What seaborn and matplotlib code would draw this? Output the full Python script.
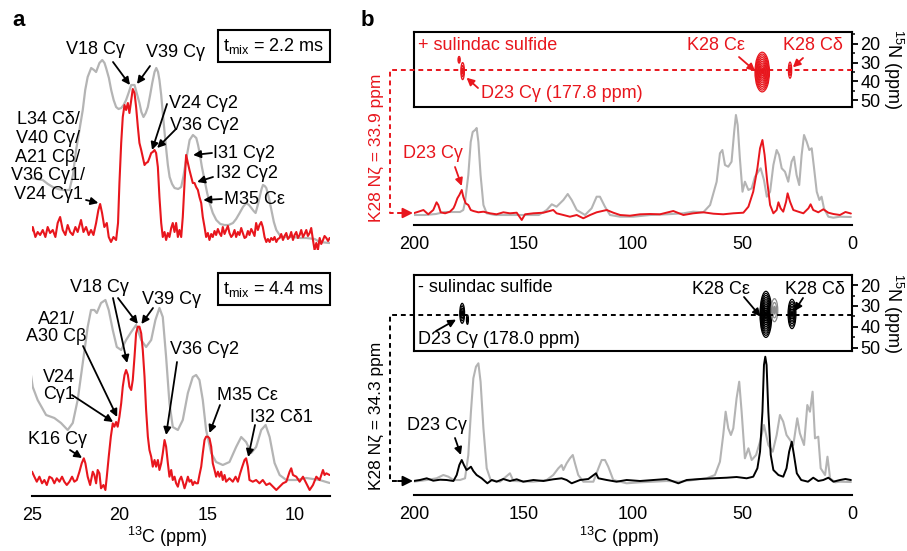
import matplotlib.pyplot as plt
import pandas as pd
import seaborn as sns
from matplotlib.lines import Line2D
from matplotlib.patches import Ellipse, FancyArrowPatch
from matplotlib.ticker import MultipleLocator

W, H = 907, 551
RED = "#e8161d"
GREY = "#b4b4b4"

# ---- panel a, t_mix = 2.2 ms (13C ppm, intensity) ----
a_top_red_ppm = [25.13, 24.94, 24.79, 24.66, 24.52, 24.37, 24.22, 24.09, 23.95, 23.80, 23.65, 23.52, 23.38,
                 23.23, 23.08, 22.95, 22.81, 22.66, 22.51, 22.38, 22.19, 22.05, 21.90, 21.75, 21.62, 21.48,
                 21.33, 21.20, 21.10, 20.99, 20.86, 20.72, 20.61, 20.48, 20.34, 20.19, 20.08, 20.00, 19.90,
                 19.81, 19.71, 19.62, 19.52, 19.43, 19.33, 19.24, 19.14, 19.05, 18.95, 18.86, 18.76, 18.67,
                 18.57, 18.48, 18.38, 18.29, 18.19, 18.10, 18.00, 17.91, 17.81, 17.72, 17.62, 17.53, 17.43,
                 17.34, 17.24, 17.15, 17.05, 16.96, 16.86, 16.77, 16.67, 16.58, 16.48, 16.39, 16.29, 16.20,
                 16.10, 16.01, 15.91, 15.82, 15.72, 15.63, 15.53, 15.44, 15.34, 15.25, 15.15, 15.06, 14.96,
                 14.87, 14.77, 14.68, 14.58, 14.49, 14.39, 14.30, 14.20, 14.11, 14.01, 13.92, 13.82, 13.73,
                 13.63, 13.54, 13.44, 13.35, 13.25, 13.16, 13.06, 12.97, 12.87, 12.78, 12.68, 12.59, 12.49,
                 12.40, 12.30, 12.21, 12.11, 12.02, 11.92, 11.83, 11.73, 11.63, 11.54, 11.44, 11.35, 11.25,
                 11.16, 11.06, 10.97, 10.87, 10.78, 10.68, 10.59, 10.49, 10.40, 10.30, 10.21, 10.11, 10.02,
                 9.92, 9.83, 9.73, 9.64, 9.54, 9.45, 9.35, 9.26, 9.16, 9.07, 8.97, 8.88, 8.78, 8.69, 8.59,
                 8.50, 8.40, 8.31, 8.21, 8.11, 8.02]
a_top_red_int = [13, 23, 13, 18, 15, 20, 13, 23, 17, 20, 13, 27, 33,
                 20, 15, 25, 18, 15, 23, 18, 30, 18, 23, 15, 20, 15,
                 27, 40, 46, 37, 23, 27, 13, 8, 13, 10, 27, 67, 107,
                 133, 145, 140, 147, 137, 150, 161, 157, 143, 123, 107, 100, 93,
                 85, 87, 88, 92, 97, 98, 100, 97, 83, 53, 27, 13, 18,
                 10, 17, 13, 22, 27, 18, 27, 13, 20, 13, 33, 67, 95,
                 87, 80, 73, 67, 67, 63, 60, 53, 47, 33, 23, 13, 17,
                 10, 16, 13, 19, 15, 21, 17, 14, 23, 16, 20, 24, 17,
                 13, 15, 20, 13, 18, 15, 22, 17, 12, 13, 19, 15, 21,
                 18, 14, 27, 20, 25, 28, 23, 13, 8, 11, 8, 12, 10,
                 13, 8, 11, 12, 16, 10, 14, 17, 11, 13, 18, 10, 15,
                 18, 12, 15, 20, 13, 16, 20, 14, 17, 22, 10, 0, 7, 0, 12,
                 6, 10, 14, 12, 9, 12]
a_top_grey_ppm = [25.04, 24.70, 24.37, 24.08, 23.80, 23.50, 23.23, 22.85, 22.65, 22.47, 22.28, 22.09, 21.95,
                  21.81, 21.61, 21.45, 21.33, 21.14, 20.98, 20.85, 20.76, 20.60, 20.47, 20.33, 20.19, 20.05,
                  19.90, 19.76, 19.62, 19.48, 19.33, 19.14, 19.00, 18.86, 18.75, 18.63, 18.50, 18.38, 18.25,
                  18.13, 18.00, 17.90, 17.80, 17.72, 17.62, 17.53, 17.43, 17.33, 17.24, 17.14, 17.00, 16.86,
                  16.65, 16.48, 16.35, 16.23, 16.10, 16.00, 15.81, 15.62, 15.52, 15.43, 15.30, 15.15, 15.00,
                  14.86, 14.68, 14.48, 14.25, 14.01, 13.78, 13.53, 13.35, 13.15, 12.96, 12.77, 12.62, 12.48,
                  12.35, 12.24, 12.10, 12.01, 11.90, 11.82, 11.72, 11.63, 11.48, 11.34, 11.20, 11.06, 10.87,
                  10.68, 10.40, 10.11, 9.70, 9.35, 8.87, 8.59, 8.02]
a_top_grey_int = [72, 71, 70, 66, 63, 61, 60, 60, 75, 100, 120, 140, 160,
                  173, 182, 180, 178, 187, 190, 187, 182, 172, 160, 150, 143, 141,
                  142, 145, 150, 157, 165, 165, 156, 147, 138, 133, 137, 143, 155,
                  167, 178, 182, 178, 170, 155, 137, 118, 100, 85, 73, 66, 62,
                  61, 63, 74, 87, 100, 110, 115, 112, 105, 97, 83, 70, 57,
                  47, 37, 30, 26, 25, 25, 27, 31, 37, 43, 47, 45, 42,
                  39, 37, 46, 53, 61, 65, 64, 62, 52, 40, 28, 20, 15,
                  13, 13, 13, 12, 12, 11, 8, 7]

# ---- panel a, t_mix = 4.4 ms ----
a_bot_red_ppm = [25.13, 24.98, 24.85, 24.71, 24.56, 24.41, 24.28, 24.14, 23.99, 23.84, 23.71, 23.57, 23.42,
                 23.27, 23.14, 23.00, 22.85, 22.70, 22.57, 22.43, 22.28, 22.15, 22.03, 21.94, 21.81, 21.67,
                 21.52, 21.43, 21.33, 21.24, 21.14, 21.05, 20.91, 20.80, 20.72, 20.61, 20.49, 20.38, 20.29,
                 20.19, 20.10, 20.00, 19.90, 19.81, 19.71, 19.62, 19.52, 19.43, 19.33, 19.24, 19.14, 19.05,
                 18.95, 18.86, 18.76, 18.67, 18.57, 18.48, 18.38, 18.29, 18.19, 18.10, 18.00, 17.91, 17.81,
                 17.72, 17.62, 17.53, 17.43, 17.34, 17.24, 17.15, 17.05, 16.96, 16.86, 16.77, 16.67, 16.58,
                 16.48, 16.39, 16.29, 16.20, 16.10, 16.01, 15.91, 15.82, 15.72, 15.63, 15.53, 15.44, 15.34,
                 15.25, 15.15, 15.06, 14.96, 14.87, 14.77, 14.68, 14.58, 14.49, 14.39, 14.30, 14.20, 14.11,
                 14.01, 13.92, 13.73, 13.54, 13.38, 13.25, 13.12, 13.00, 12.87, 12.78, 12.68, 12.59, 12.40,
                 12.21, 12.02, 11.83, 11.63, 11.44, 11.25, 11.06, 10.87, 10.68, 10.49, 10.30, 10.21, 10.11,
                 9.92, 9.73, 9.54, 9.35, 9.16, 8.97, 8.78, 8.59, 8.40, 8.31, 8.21, 8.02]
a_bot_red_int = [17.7, 24.3, 19.3, 14.3, 19.3, 12.7, 16.0, 11.0, 19.3, 17.7, 12.7, 17.7, 14.3,
                 19.3, 14.3, 11.0, 14.3, 19.3, 14.3, 16.0, 24.3, 32.7, 37.7, 32.7, 19.3, 11.0,
                 24.3, 21.0, 12.7, 26.0, 22.7, 7.7, 11.0, 6.0, 19.3, 39.3, 59.3, 72.7, 69.3,
                 74.0, 69.3, 79.3, 92.7, 109.3, 121.0, 126.0, 121.0, 109.3, 106.0, 116.0, 139.3, 162.7,
                 169.3, 169.3, 162.7, 146.0, 119.3, 86.0, 59.3, 46.0, 39.3, 29.3, 36.0, 29.3, 36.0,
                 26.0, 32.7, 42.7, 56.0, 49.3, 32.7, 19.3, 26.0, 16.0, 19.3, 12.7, 9.3, 16.0,
                 19.3, 14.3, 7.7, 12.7, 19.3, 14.3, 16.0, 11.0, 14.3, 12.7, 12.7, 21.0, 29.3,
                 42.7, 56.0, 59.3, 59.3, 57.7, 49.3, 32.7, 26.0, 19.3, 24.3, 19.3, 24.3, 16.0,
                 21.0, 14.3, 17.7, 14.3, 19.3, 14.3, 22.7, 29.3, 36.0, 37.7, 29.3, 16.0, 14.3,
                 16.0, 12.7, 16.0, 11.0, 12.7, 9.3, 6.0, 9.3, 12.7, 14.3, 24.3, 27.7, 21.0,
                 19.3, 14.3, 19.3, 12.7, 6.0, 11.0, 19.3, 16.0, 26.0, 21.0, 22.7, 21.0]
a_bot_grey_ppm = [25.13, 24.94, 24.66, 24.18, 23.71, 23.33, 22.95, 22.66, 22.38, 22.09, 21.81, 21.62, 21.43,
                  21.29, 21.05, 20.80, 20.61, 20.38, 20.15, 19.90, 19.62, 19.33, 19.05, 18.76, 18.48, 18.19,
                  17.95, 17.72, 17.53, 17.34, 17.15, 16.96, 16.67, 16.39, 16.10, 15.82, 15.63, 15.44, 15.25,
                  15.06, 14.77, 14.49, 14.11, 13.73, 13.35, 13.06, 12.78, 12.49, 12.21, 11.92, 11.67, 11.44,
                  11.16, 10.87, 10.49, 9.92, 9.35, 8.59, 8.02]
a_bot_grey_int = [131, 109, 96, 81, 78, 73, 66, 73, 96, 133, 169, 186, 186,
                  183, 193, 196, 186, 166, 149, 146, 156, 164, 171, 156, 149, 156,
                  176, 188, 179, 139, 93, 69, 66, 76, 103, 119, 121, 116, 96,
                  66, 43, 34, 31, 34, 49, 59, 54, 43, 49, 66, 71, 59,
                  33, 21, 16, 16, 18, 16, 13]

# ---- panel b, 1D slices (13C ppm, intensity) ----
b_top_red_ppm = [200.3, 198.0, 195.7, 193.5, 191.2, 189.7, 188.9, 187.8, 185.8, 183.6, 182.0, 181.3, 180.2,
                 179.3, 178.2, 177.5, 176.4, 175.2, 174.1, 172.9, 170.6, 168.3, 165.3, 162.3, 159.2, 156.2,
                 153.1, 150.8, 149.3, 145.5, 140.9, 136.4, 134.9, 131.8, 128.8, 125.7, 122.7, 119.6, 116.6,
                 112.0, 109.0, 105.9, 101.4, 96.8, 92.2, 87.7, 81.6, 77.0, 72.5, 67.9, 63.3, 58.8, 54.2,
                 49.6, 47.3, 45.1, 43.2, 42.0, 40.9, 39.9, 38.7, 37.4, 35.9, 34.4, 33.6, 32.6, 31.4, 30.1,
                 29.4, 28.3, 26.8, 24.5, 22.2, 19.9, 18.9, 17.7, 15.4, 13.1, 10.8, 8.5, 5.5, 3.0, 0.5]
b_top_red_int = [11.7, 13.3, 15.0, 10.7, 15.0, 22.7, 20.0, 12.7, 11.7, 13.3, 16.7, 20.0, 26.7,
                 30.0, 35.0, 28.3, 21.7, 20.0, 15.0, 14.0, 12.7, 13.3, 11.7, 10.7, 12.7, 11.7,
                 12.3, 5.0, 10.7, 11.7, 12.3, 15.0, 11.7, 10.0, 8.3, 10.0, 6.7, 10.0, 12.7,
                 15.0, 12.3, 10.0, 9.3, 10.7, 11.0, 10.7, 14.0, 10.0, 11.7, 12.7, 11.3, 10.7, 11.7,
                 12.3, 18.3, 33.3, 56.7, 76.7, 85.0, 70.0, 43.3, 20.0, 11.7, 15.0, 22.7, 16.7, 13.3, 23.3,
                 31.7, 23.3, 15.0, 13.3, 11.7, 16.7, 20.7, 15.0, 12.7, 15.7, 12.3, 11.0, 10.0, 13.0, 11.5]
b_top_grey_ppm = [200.3, 195.0, 190.0, 186.0, 182.0, 179.0, 177.5, 176.7, 175.2, 174.1, 173.2, 172.1, 171.4,
                  170.6, 169.6, 168.3, 166.8, 163.0, 158.0, 153.0, 148.0, 143.0, 139.4, 137.1, 134.9, 131.8,
                  129.8, 128.0, 125.7, 121.9, 118.9, 116.6, 115.1, 112.8, 110.5, 105.9, 99.8, 92.2, 84.6,
                  77.0, 72.5, 67.9, 64.8, 61.8, 60.3, 59.2, 58.0, 56.5, 55.0, 53.8, 53.0, 52.2, 51.2, 50.0,
                  48.9, 47.3, 45.8, 44.3, 42.8, 41.7, 40.2, 38.9, 37.4, 35.9, 34.4, 33.3, 32.1, 30.6, 29.1,
                  27.6, 26.5, 25.3, 24.1, 23.0, 21.9, 20.7, 19.5, 18.4, 17.4, 16.1, 14.9, 13.9, 12.8, 10.8,
                  8.5, 5.5, 0.5]
b_top_grey_int = [10, 10, 11, 13, 13, 13, 15, 23, 50, 83, 93, 95, 97,
                  83, 50, 20, 11.7, 10, 10, 10, 10, 10, 15, 20.7, 18.3, 25,
                  31, 25, 15, 10, 16.7, 28.3, 28.3, 18.3, 10, 8.3, 8.3, 10, 10.7,
                  11.7, 13.3, 12.7, 20, 43.3, 71.7, 75, 60, 58.3, 63.3, 93.3, 110, 100, 66.7, 33.3,
                  43.3, 35, 36.7, 48.3, 53.3, 56.7, 45, 28.3, 33.3, 60, 75, 70, 56.7, 53.3, 43.3,
                  63.3, 68.3, 50, 40, 70, 90, 83.3, 75, 76.7, 58.3, 33.3, 25, 28.3, 16.7, 8.3,
                  7.3, 8.3, 8]
b_bot_black_ppm = [200.3, 197.3, 194.2, 191.2, 188.1, 185.1, 182.0, 180.5, 179.3, 178.2, 177.2, 176.0, 174.9,
                   174.0, 172.9, 171.4, 169.1, 166.5, 164.5, 162.3, 159.2, 156.2, 153.1, 150.1, 145.5, 140.9,
                   136.4, 132.6, 130.3, 128.0, 124.2, 120.4, 116.9, 115.8, 112.0, 107.5, 102.9, 96.8, 90.7,
                   84.6, 79.3, 75.5, 69.4, 63.3, 57.2, 52.7, 48.1, 45.1, 43.2, 42.0, 40.9, 40.2, 39.6, 39.0,
                   38.2, 37.1, 35.9, 33.6, 31.4, 29.9, 28.7, 27.5, 26.5, 25.2, 23.2, 20.1, 17.7, 15.4, 13.1,
                   10.8, 8.5, 5.5, 3.0, 0.5]
b_bot_black_int = [14, 15, 16.7, 14.3, 15.3, 15, 14, 20, 30, 35, 30, 25, 26.7,
                   28.3, 24, 20, 16.7, 11.7, 15, 13.3, 16, 14, 15.7, 13.3, 15, 14,
                   15.7, 16.7, 15, 11.7, 15, 16, 21.7, 16.7, 15, 13.3, 15, 14, 15,
                   16, 11.7, 15, 16, 16.7, 17.3, 18, 16.7, 18.3, 26.7, 43.3, 83.3, 130, 138.3, 130,
                   83.3, 40, 25, 20, 18.3, 26.7, 43.3, 53.3, 40, 21.7, 15, 13.3, 17.3, 14, 15,
                   17.3, 13.3, 15, 16, 15]
b_bot_grey_ppm = [200.3, 194.2, 189.7, 186.6, 184.3, 182.0, 179.0, 176.7, 175.2, 174.0, 172.9, 171.7, 170.6,
                  169.6, 168.3, 166.8, 165.0, 160.7, 156.2, 154.6, 145.5, 139.4, 136.4, 134.1, 132.6, 131.8,
                  130.3, 128.8, 127.5, 126.5, 125.0, 122.7, 118.1, 115.8, 114.3, 112.8, 111.3, 109.0, 102.9,
                  96.8, 90.7, 84.6, 78.5, 72.5, 66.4, 62.6, 60.3, 58.8, 57.7, 56.5, 55.3, 54.2, 52.7, 51.5,
                  50.4, 48.9, 47.3, 45.8, 43.8, 42.0, 40.2, 38.2, 36.2, 34.4, 32.9, 31.4, 29.9, 28.3, 26.8,
                  25.0, 23.8, 21.9, 20.4, 19.2, 18.0, 16.9, 15.4, 14.3, 12.3, 11.2, 10.0, 7.7, 5.5, 0.5]
b_bot_grey_int = [13.3, 15, 16.7, 20, 18.3, 15, 15, 16.7, 40, 83.3, 116.7, 128.3, 131.7,
                  113.3, 66.7, 26.7, 15, 13.3, 21.7, 14, 13.3, 15, 20, 26.7, 30, 25,
                  31.7, 36.7, 40, 31.7, 20, 13.3, 13.3, 26.7, 35, 35, 28.3, 15, 11.7,
                  12.7, 13.3, 14, 13.3, 15, 16.7, 20, 33.3, 60, 83.3, 66.7, 60, 66.7, 96.7, 113.3,
                  83.3, 36.7, 46.7, 35, 40, 53.3, 70, 50, 43.3, 60, 80, 73.3, 60, 55, 50,
                  76.7, 61.7, 50, 90, 83.3, 103.3, 56.7, 58.3, 26.7, 20, 38.3, 16.7, 12.7, 13.3, 13]

# ---- panel b, 2D cross peaks (13C ppm, 15N ppm, widths, contour rings) ----
top_peak_c = [177.8, 179.4, 41.0, 28.3]
top_peak_n = [34.5, 28.5, 35.0, 34.0]
top_peak_wc = [1.6, 1.0, 6.6, 1.5]
top_peak_wn = [9.0, 3.5, 21.0, 8.5]
top_peak_rings = [3, 2, 11, 3]
bot_peak_c = [178.0, 175.6, 39.3, 35.4, 27.4]
bot_peak_n = [33.5, 36.5, 34.0, 32.0, 33.8]
bot_peak_wc = [2.2, 0.9, 5.4, 3.0, 3.6]
bot_peak_wn = [9.5, 4.5, 22.0, 11.0, 14.0]
bot_peak_rings = [4, 2, 11, 3, 6]
bot_peak_colors = ["black", "black", "black", "#8c8c8c", "black"]

d23_cgamma = [177.8, 178.0]
k28_nz = [33.9, 34.3]
tmix = [2.2, 4.4]


def frac(px, py):
    return px / W, 1 - py / H


def axes_px(fig, x0, y0, x1, y1):
    ax = fig.add_axes([x0 / W, 1 - y1 / H, (x1 - x0) / W, (y1 - y0) / H])
    ax.set_facecolor("none")
    return ax


def trace(ax, ppm, inten, color, lw, z):
    df = pd.DataFrame({"ppm": ppm, "intensity": inten})
    sns.lineplot(data=df, x="ppm", y="intensity", ax=ax, color=color, linewidth=lw,
                 estimator=None, sort=False, zorder=z)
    ax.set_xlabel("")
    ax.set_ylabel("")


def spec_axis(ax, major, minor=None, show_x=True):
    for side in ("top", "left", "right"):
        ax.spines[side].set_visible(False)
    ax.set_yticks([])
    if not show_x:
        ax.spines["bottom"].set_visible(False)
        ax.set_xticks([])
        return
    ax.spines["bottom"].set_linewidth(1.5)
    ax.xaxis.set_major_locator(MultipleLocator(major))
    if minor:
        ax.xaxis.set_minor_locator(MultipleLocator(minor))
    ax.tick_params(axis="x", which="major", direction="out", length=7, width=1.5, pad=1, labelsize=13)
    ax.tick_params(axis="x", which="minor", direction="out", length=4, width=1.3)


def inset_axis(ax, ylim):
    ax.set_xlim(200, 0)
    ax.set_ylim(*ylim)
    ax.set_xticks([])
    for sp in ax.spines.values():
        sp.set_linewidth(1.5)
    ax.yaxis.tick_right()
    ax.yaxis.set_minor_locator(MultipleLocator(5))
    ax.set_yticks([20, 30, 40, 50])
    ax.tick_params(axis="y", which="major", direction="out", length=4, width=1.3, pad=2, labelsize=13)
    ax.tick_params(axis="y", which="minor", direction="out", length=2.5, width=1.1)
    ax.text(1.093, 0.5, r"$^{15}$N (ppm)", transform=ax.transAxes, rotation=270,
            ha="center", va="center", fontsize=13)


def peaks(ax, cs, ns, wcs, wns, rings, colors):
    for c, n, wc, wn, k, col in zip(cs, ns, wcs, wns, rings, colors):
        for i in range(k):
            s = 1 - i / k
            ax.add_patch(Ellipse((c, n), wc * s, wn * s, fill=(i == k - 1), ec=col,
                                 fc=col, lw=0.9))


def label(fig, px, py, s, color="black", **kw):
    fig.text(*frac(px, py), s, ha=kw.pop("ha", "center"), va=kw.pop("va", "center"),
             fontsize=kw.pop("fontsize", 13), color=color, **kw)


def arrow(ax, tip, tail_px, color="black"):
    ax.annotate("", xy=tip, xycoords="data", xytext=frac(*tail_px), textcoords="figure fraction",
                annotation_clip=False,
                arrowprops=dict(arrowstyle="-|>", color=color, lw=1.3, mutation_scale=11,
                                shrinkA=0, shrinkB=0))


def connector(fig, ax_in, ax_sp, n_val, base, color):
    to_fig = fig.transFigure.inverted()
    _, yn = to_fig.transform(ax_in.transData.transform((100, n_val)))
    _, yb = to_fig.transform(ax_sp.transData.transform((100, base)))
    x_right = 852 / W
    x_left = 390 / W
    fig.add_artist(Line2D([x_right, x_left, x_left, 402 / W], [yn, yn, yb, yb],
                          transform=fig.transFigure, color=color, lw=1.4, ls=(0, (2.5, 2))))
    fig.add_artist(FancyArrowPatch((398 / W, yb), (413 / W, yb), transform=fig.transFigure,
                                   arrowstyle="-|>", mutation_scale=15, color=color, lw=1.4,
                                   shrinkA=0, shrinkB=0))


sns.set_theme(style="white")
plt.rcParams["font.family"] = ["Liberation Sans", "DejaVu Sans"]
plt.rcParams["mathtext.fontset"] = "custom"
plt.rcParams["mathtext.rm"] = "Liberation Sans"
plt.rcParams["mathtext.it"] = "Liberation Sans:italic"
plt.rcParams["mathtext.bf"] = "Liberation Sans:bold"
plt.rcParams["text.color"] = "black"
plt.rcParams["axes.edgecolor"] = "black"
plt.rcParams["xtick.color"] = "black"
plt.rcParams["ytick.color"] = "black"

fig = plt.figure(figsize=(W / 100, H / 100), dpi=100)
fig.patch.set_facecolor("white")

# ---------------- panel a ----------------
ax_a1 = axes_px(fig, 31.7, 40, 330, 250)
trace(ax_a1, a_top_grey_ppm, a_top_grey_int, GREY, 1.6, 1)
trace(ax_a1, a_top_red_ppm, a_top_red_int, RED, 1.5, 2)
ax_a1.set_xlim(25, 8)
ax_a1.set_ylim(0, 210)
spec_axis(ax_a1, 5, show_x=False)

ax_a2 = axes_px(fig, 31.7, 290, 330, 496)
trace(ax_a2, a_bot_grey_ppm, a_bot_grey_int, GREY, 1.6, 1)
trace(ax_a2, a_bot_red_ppm, a_bot_red_int, RED, 1.5, 2)
ax_a2.set_xlim(25, 8)
ax_a2.set_ylim(0, 206)
spec_axis(ax_a2, 5)
label(fig, 167, 543, r"$^{13}$C (ppm)", va="baseline")

for py, t in zip((46, 289), tmix):
    fig.text(*frac(274, py), r"t$_{\mathrm{mix}}$ = " + f"{t} ms", ha="center", va="center",
             fontsize=13, bbox=dict(boxstyle="square,pad=0.32", fc="white", ec="black", lw=1.5))

label(fig, 95, 50, "V18 Cγ")
arrow(ax_a1, (19.4, 165), (113, 62))
label(fig, 176, 53, "V39 Cγ")
arrow(ax_a1, (19.0, 166), (150, 66))
label(fig, 48, 157, "L34 Cδ/\nV40 Cγ/\nA21 Cβ/\nV36 Cγ1/\nV24 Cγ1", linespacing=1.12,
      multialignment="center")
arrow(ax_a1, (21.2, 47), (86, 200))
label(fig, 203, 103, "V24 Cγ2")
arrow(ax_a1, (18.14, 100), (167, 104))
label(fig, 204, 126, "V36 Cγ2")
arrow(ax_a1, (17.85, 102), (176, 129))
label(fig, 244, 153, "I31 Cγ2")
arrow(ax_a1, (15.8, 95), (212, 153))
label(fig, 247, 174, "I32 Cγ2")
arrow(ax_a1, (15.57, 68), (213, 177))
label(fig, 254, 200, "M35 Cε")
arrow(ax_a1, (15.22, 50), (222, 199))

label(fig, 99, 288, "V18 Cγ")
arrow(ax_a2, (19.56, 133), (113, 298))
arrow(ax_a2, (18.95, 172), (118, 298))
label(fig, 172, 300, "V39 Cγ")
arrow(ax_a2, (18.75, 172), (153, 308))
label(fig, 56, 328, "A21/\nA30 Cβ", linespacing=1.05, multialignment="center")
arrow(ax_a2, (20.13, 79), (83, 346))
label(fig, 59, 386, "V24\nCγ1", linespacing=1.05, multialignment="center")
arrow(ax_a2, (20.36, 74), (72, 395))
label(fig, 57, 440, "K16 Cγ")
arrow(ax_a2, (22.13, 38), (70, 450))
label(fig, 204, 350, "V36 Cγ2")
arrow(ax_a2, (17.34, 61), (177, 362))
label(fig, 247, 395, "M35 Cε")
arrow(ax_a2, (14.87, 63), (220, 405))
label(fig, 281, 417, "I32 Cδ1")
arrow(ax_a2, (12.66, 39), (255, 425))

label(fig, 19, 20, "a", fontsize=16, fontweight="bold")
label(fig, 367, 20, "b", fontsize=16, fontweight="bold")

# ---------------- panel b ----------------
ax_i1 = axes_px(fig, 414, 32, 852, 107)
inset_axis(ax_i1, (53.5, 13.8))
peaks(ax_i1, top_peak_c, top_peak_n, top_peak_wc, top_peak_wn, top_peak_rings,
      [RED] * len(top_peak_c))

ax_s1 = axes_px(fig, 414, 113, 852, 225)
trace(ax_s1, b_top_grey_ppm, b_top_grey_int, GREY, 1.5, 1)
trace(ax_s1, b_top_red_ppm, b_top_red_int, RED, 1.4, 2)
ax_s1.set_xlim(200, 0)
ax_s1.set_ylim(0, 112)
spec_axis(ax_s1, 50, 10)

ax_i2 = axes_px(fig, 414, 275, 852, 351)
inset_axis(ax_i2, (51.5, 15.2))
peaks(ax_i2, bot_peak_c, bot_peak_n, bot_peak_wc, bot_peak_wn, bot_peak_rings, bot_peak_colors)

ax_s2 = axes_px(fig, 414, 340, 852, 495)
trace(ax_s2, b_bot_grey_ppm, b_bot_grey_int, GREY, 1.5, 1)
trace(ax_s2, b_bot_black_ppm, b_bot_black_int, "black", 1.4, 2)
ax_s2.set_xlim(200, 0)
ax_s2.set_ylim(0, 155)
spec_axis(ax_s2, 50, 10)
label(fig, 619, 543, r"$^{13}$C (ppm)", va="baseline")

connector(fig, ax_i1, ax_s1, k28_nz[0], 12, RED)
connector(fig, ax_i2, ax_s2, k28_nz[1], 14, "black")
label(fig, 376, 148, f"K28 Nζ = {k28_nz[0]} ppm", color=RED, rotation=90, fontsize=12.5)
label(fig, 376, 416, f"K28 Nζ = {k28_nz[1]} ppm", rotation=90, fontsize=12.5)

label(fig, 418, 45, "+ sulindac sulfide", color=RED, ha="left")
label(fig, 716, 46, "K28 Cε", color=RED)
arrow(ax_i1, (44.2, 34.5), (739, 57), RED)
label(fig, 813, 46, "K28 Cδ", color=RED)
arrow(ax_i1, (27.0, 32.5), (803, 58), RED)
label(fig, 481, 94, f"D23 Cγ ({d23_cgamma[0]:.1f} ppm)", color=RED, ha="left")
arrow(ax_i1, (176.0, 38.0), (478, 88), RED)

label(fig, 418, 288, "- sulindac sulfide", ha="left")
label(fig, 721, 289, "K28 Cε")
arrow(ax_i2, (41.8, 35.0), (744, 297))
label(fig, 815, 289, "K28 Cδ")
arrow(ax_i2, (26.3, 32.5), (803, 298))
label(fig, 418, 339, f"D23 Cγ ({d23_cgamma[1]:.1f} ppm)", ha="left")
arrow(ax_i2, (180.8, 36.5), (436, 331))

label(fig, 433, 153, "D23 Cγ", color=RED)
arrow(ax_s1, (178.2, 39), (455, 167), RED)
label(fig, 437, 425, "D23 Cγ")
arrow(ax_s2, (178.6, 40), (455, 438))

fig.savefig("out.png", dpi=100)
